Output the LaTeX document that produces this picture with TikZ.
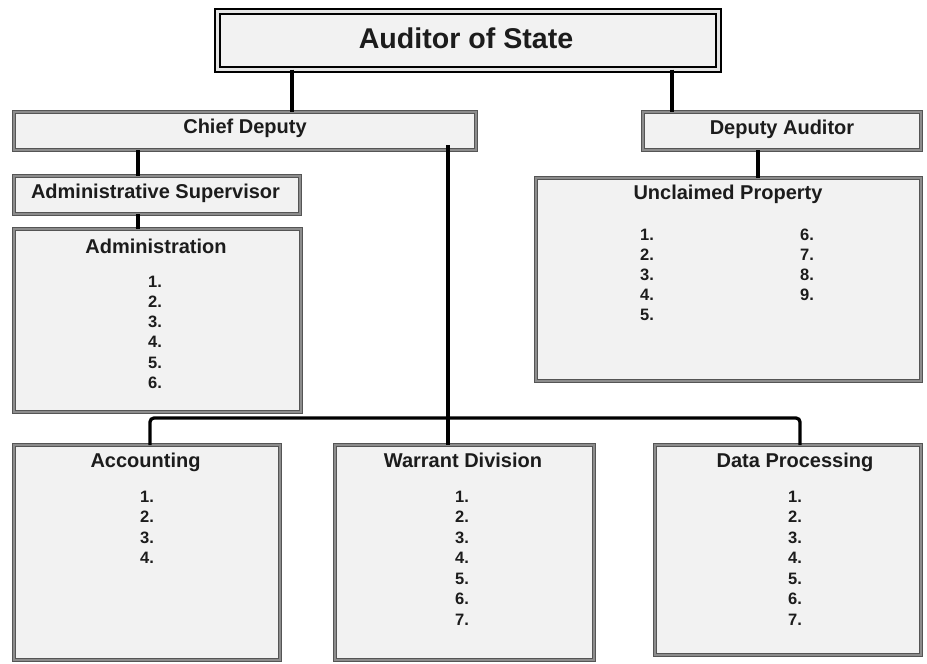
\documentclass[tikz,border=0pt]{standalone}
\usepackage{fontspec}
\setmainfont{Liberation Sans}
\definecolor{boxfill}{HTML}{F2F2F2}
\definecolor{boxedge}{HTML}{555555}
\definecolor{boxmid}{HTML}{8C8C8C}
\definecolor{ink}{HTML}{1C1C1C}
\definecolor{topmid}{HTML}{E4E4E4}
\begin{document}
\begin{tikzpicture}[x=1pt,y=-1pt,
  box/.style={draw=boxedge, double=boxmid, line width=0.9pt, double distance=2.2pt,
    fill=boxfill, inner sep=0pt, outer sep=0pt},
  topbox/.style={draw=black, double=topmid, line width=1.6pt, double distance=3.6pt,
    fill=boxfill, inner sep=0pt, outer sep=0pt},
  head/.style={font=\fontsize{20}{24}\selectfont\bfseries, text=ink, inner sep=0pt, anchor=base},
  bighead/.style={font=\fontsize{28.6}{32}\selectfont\bfseries, text=ink, inner sep=0pt, anchor=base},
  num/.style={font=\fontsize{16.5}{18}\selectfont\bfseries, text=ink, inner sep=0pt, anchor=base},
  conn/.style={line width=4pt, draw=black},
  tree/.style={line width=3.3pt, draw=black, rounded corners=4pt}]
\useasboundingbox (0,0) rectangle (927,664);
% boxes
\node[topbox, minimum width=501pt, minimum height=58pt] (aud) at (468,40.5) {};
\node[box, minimum width=462pt, minimum height=38pt] (chief) at (245,131) {};
\node[box, minimum width=278pt, minimum height=38pt] (deputy) at (782,131) {};
\node[box, minimum width=286pt, minimum height=38pt] (adsup) at (157,195) {};
\node[box, minimum width=287pt, minimum height=183pt] (admin) at (157.5,320.5) {};
\node[box, minimum width=385pt, minimum height=203pt] (uncl) at (728.5,279.5) {};
\node[box, minimum width=266pt, minimum height=215pt] (acct) at (147,552.5) {};
\node[box, minimum width=259pt, minimum height=215pt] (warr) at (464.5,552.5) {};
\node[box, minimum width=266pt, minimum height=210pt] (data) at (788,550) {};
% connectors
\draw[conn] (292,0 |- aud.south) -- (292,0 |- chief.north);
\draw[conn] (672,0 |- aud.south) -- (672,0 |- deputy.north);
\draw[conn] (138,0 |- chief.south) -- (138,0 |- adsup.north);
\draw[conn] (138,0 |- adsup.south) -- (138,0 |- admin.north);
\draw[conn] (758,0 |- deputy.south) -- (758,0 |- uncl.north);
\draw[tree] ([yshift=5pt]448,0 |- chief.south) -- (448,0 |- warr.north);
\draw[tree] (150,0 |- acct.north) |- (800,418) -- (800,0 |- data.north);
% titles
\node[bighead] (taud) at (466,48) {Auditor of State};
\node[head] (tchief) at (245,133.5) {Chief Deputy};
\node[head] (tdep) at (782,134) {Deputy Auditor};
\node[head] (tadsup) at (155.5,198) {Administrative Supervisor};
\node[head] (tadmin) at (156,253) {Administration};
\node[head] (tuncl) at (728,199) {Unclaimed Property};
\node[head] (tacct) at (145.5,467) {Accounting};
\node[head] (twarr) at (463,467) {Warrant Division};
\node[head] (tdata) at (795,467) {Data Processing};
% numbered items
\foreach \n/\yy in {1/287,2/307.3,3/327.6,4/347.9,5/368.2,6/388.5}
  \node[num] (adm\n) at (155,\yy) {\n.};
\foreach \n/\yy in {1/240,2/260,3/280,4/300,5/320.5}
  \node[num] (unc\n) at (647,\yy) {\n.};
\foreach \n/\yy in {6/240,7/260,8/280,9/300}
  \node[num] (unc\n) at (807,\yy) {\n.};
\foreach \n/\yy in {1/502,2/522.5,3/543,4/563.5}
  \node[num] (acc\n) at (147,\yy) {\n.};
\foreach \n/\yy in {1/502,2/522.5,3/543,4/563.5,5/584,6/604.5,7/625}
  \node[num] (war\n) at (462,\yy) {\n.};
\foreach \n/\yy in {1/502,2/522.5,3/543,4/563.5,5/584,6/604.5,7/625}
  \node[num] (dat\n) at (795,\yy) {\n.};
\end{tikzpicture}
\end{document}
